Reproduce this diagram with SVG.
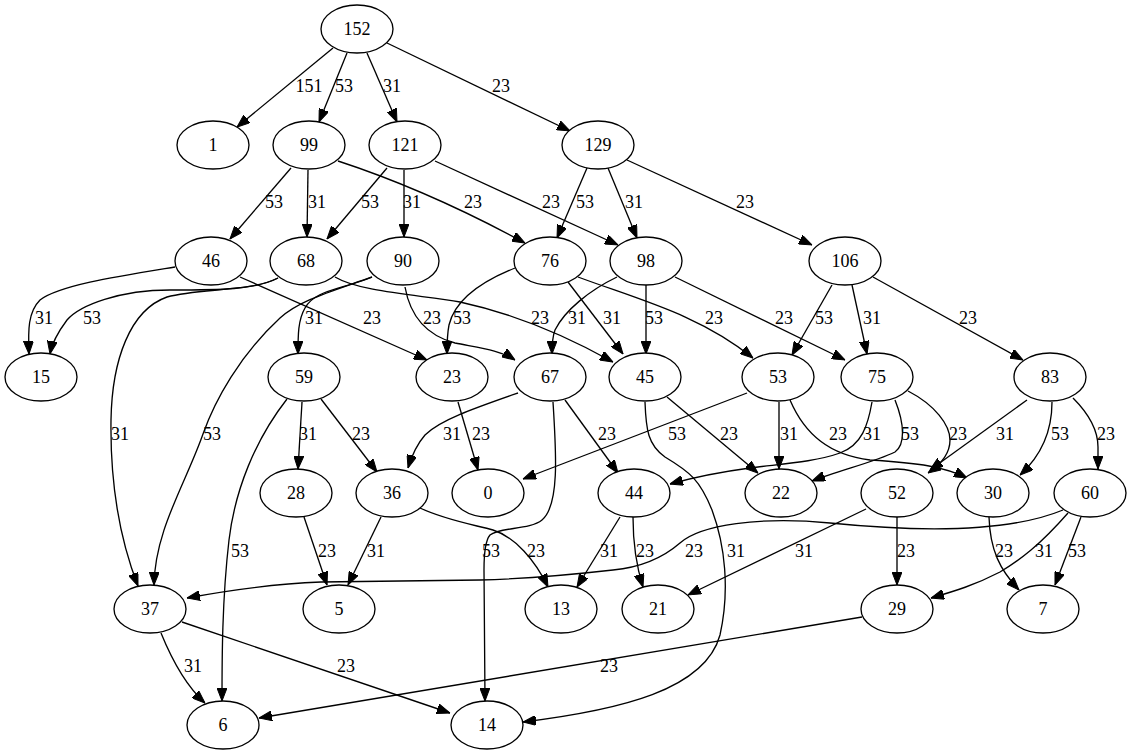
<svg xmlns="http://www.w3.org/2000/svg" width="1132" height="755" viewBox="0 0 1132 755">
<style>
.n ellipse{fill:#fff;stroke:#000;stroke-width:1.33}
text{font-family:"Liberation Serif","Times New Roman",serif;font-size:18px;fill:#000;text-anchor:middle}
.e path{fill:none;stroke:#000;stroke-width:1.33;marker-end:url(#ah)}
</style>
<defs>
<marker id="ah" viewBox="0 0 13 10" refX="13" refY="5" markerWidth="13" markerHeight="10" markerUnits="userSpaceOnUse" orient="auto">
<path d="M0,0 L13,5 L0,10 z" fill="#000" stroke="#000" stroke-width="1"/>
</marker>
</defs>
<rect width="1132" height="755" fill="#fff"/>
<g id="edges" class="e">
<g id="e152-1"><path d="M333,48 L237,127"/><text x="309" y="92">151</text></g>
<g id="e152-99"><path d="M347,53 L319,122"/><text x="344" y="92">53</text></g>
<g id="e152-121"><path d="M367,53 L397,122"/><text x="392" y="92">31</text></g>
<g id="e152-129"><path d="M387,43 L570,131"/><text x="501" y="92">23</text></g>
<g id="e99-46"><path d="M291,168 L230,239"/><text x="274" y="208">53</text></g>
<g id="e99-68"><path d="M308,170 L307,237"/><text x="317" y="208">31</text></g>
<g id="e99-76"><path d="M338,161 C390,178 455,205 525,243"/><text x="473" y="208">23</text></g>
<g id="e121-68"><path d="M387,168 L327,239"/><text x="370" y="208">53</text></g>
<g id="e121-90"><path d="M404,170 L404,237"/><text x="412" y="208">31</text></g>
<g id="e121-98"><path d="M435,161 L618,245"/><text x="551" y="208">23</text></g>
<g id="e129-76"><path d="M587,168 L557,238"/><text x="585" y="208">53</text></g>
<g id="e129-98"><path d="M608,168 L637,238"/><text x="634" y="208">31</text></g>
<g id="e129-106"><path d="M627,160 L812,245"/><text x="745" y="208">23</text></g>
<g id="e46-15"><path d="M175,267 C120,276 60,285 40,300 C28,312 28,330 29,354"/><text x="44" y="324">31</text></g>
<g id="e46-23"><path d="M240,277 L427,360"/><text x="372" y="324">23</text></g>
<g id="e68-15"><path d="M278,278 C255,290 220,290 170,290 C120,290 80,305 67,320 C58,332 52,343 50,354"/><text x="92" y="324">53</text></g>
<g id="e68-37"><path d="M278,278 C250,292 200,288 167,297 C130,310 112,360 111,420 C110,490 122,545 138,586"/><text x="120" y="440">31</text></g>
<g id="e68-45"><path d="M335,277 C360,292 420,295 460,302 C520,315 570,338 613,362"/><text x="540" y="324">23</text></g>
<g id="e90-59"><path d="M372,277 C340,290 315,290 305,308 C298,320 298,335 298,354"/><text x="314" y="324">31</text></g>
<g id="e90-37"><path d="M372,277 C330,292 300,300 280,318 C240,355 215,400 203,434 C185,485 155,530 154,585"/><text x="212" y="440">53</text></g>
<g id="e90-67"><path d="M405,287 C410,315 425,335 455,343 C480,348 500,350 515,360"/><text x="432" y="324">23</text></g>
<g id="e76-23"><path d="M515,268 C480,282 455,300 449,325 C447,335 447,345 447,354"/><text x="462" y="324">53</text></g>
<g id="e76-45"><path d="M568,282 L623,354"/><text x="612" y="324">31</text></g>
<g id="e76-53"><path d="M578,277 C640,300 700,315 753,358"/><text x="714" y="324">23</text></g>
<g id="e98-67"><path d="M617,277 C590,290 565,310 555,330 C552,338 552,345 552,354"/><text x="577" y="324">31</text></g>
<g id="e98-45"><path d="M646,285 L646,354"/><text x="654" y="324">53</text></g>
<g id="e98-75"><path d="M675,277 L845,360"/><text x="784" y="324">23</text></g>
<g id="e106-53"><path d="M832,285 L792,355"/><text x="824" y="324">53</text></g>
<g id="e106-75"><path d="M852,285 L867,354"/><text x="872" y="324">31</text></g>
<g id="e106-83"><path d="M873,277 L1023,360"/><text x="968" y="324">23</text></g>
<g id="e59-28"><path d="M302,402 L298,469"/><text x="308" y="440">31</text></g>
<g id="e59-36"><path d="M321,399 L377,472"/><text x="361" y="440">23</text></g>
<g id="e59-6"><path d="M287,399 C255,440 235,490 229,540 C222,600 222,660 222,701"/><text x="240" y="557">53</text></g>
<g id="e23-0"><path d="M458,402 L478,470"/><text x="481" y="440">23</text></g>
<g id="e67-36"><path d="M518,393 C475,408 440,420 425,435 C418,443 412,455 408,468"/><text x="452" y="440">31</text></g>
<g id="e67-44"><path d="M565,400 L618,473"/><text x="607" y="440">23</text></g>
<g id="e67-14"><path d="M553,402 C556,450 560,505 542,520 C530,530 500,527 490,535 C484,542 484,560 484,570 L485,701"/><text x="491" y="557">53</text></g>
<g id="e45-22"><path d="M667,397 L758,473"/><text x="729" y="440">23</text></g>
<g id="e45-14"><path d="M645,402 C646,430 648,445 665,457 C690,472 700,480 712,510 C725,545 730,590 720,635 C705,690 620,710 523,722"/><text x="736" y="557">31</text></g>
<g id="e53-0"><path d="M747,393 L523,479"/><text x="677" y="440">53</text></g>
<g id="e53-22"><path d="M779,402 L779,469"/><text x="789" y="440">31</text></g>
<g id="e53-30"><path d="M790,400 C805,435 830,455 870,460 C920,463 945,467 967,478"/><text x="838" y="440">23</text></g>
<g id="e75-44"><path d="M872,402 C868,425 862,445 840,453 C815,462 780,464 750,468 C720,472 695,477 670,484"/><text x="872" y="440">31</text></g>
<g id="e75-22"><path d="M895,400 C905,425 905,445 895,452 C875,462 840,470 812,481"/><text x="910" y="440">53</text></g>
<g id="e75-52"><path d="M908,391 C935,405 950,425 950,440 C950,455 940,465 928,473"/><text x="958" y="440">23</text></g>
<g id="e83-52"><path d="M1027,400 L930,470"/><text x="1005" y="440">31</text></g>
<g id="e83-30"><path d="M1052,402 C1052,430 1042,455 1020,475"/><text x="1060" y="440">53</text></g>
<g id="e83-60"><path d="M1073,398 C1090,415 1098,430 1098,447 L1098,469"/><text x="1106" y="440">23</text></g>
<g id="e28-5"><path d="M304,517 L327,585"/><text x="327" y="557">23</text></g>
<g id="e36-5"><path d="M381,517 L348,585"/><text x="376" y="557">31</text></g>
<g id="e36-13"><path d="M420,508 C445,520 475,525 493,530 C515,537 535,560 548,587"/><text x="536" y="557">23</text></g>
<g id="e44-13"><path d="M620,517 L577,587"/><text x="609" y="557">31</text></g>
<g id="e44-21"><path d="M633,517 C633,545 636,565 643,587"/><text x="645" y="557">23</text></g>
<g id="e52-21"><path d="M866,509 L688,595"/><text x="804" y="557">31</text></g>
<g id="e52-29"><path d="M897,517 L897,585"/><text x="906" y="557">23</text></g>
<g id="e30-7"><path d="M989,517 C990,550 1000,570 1019,590"/><text x="1004" y="557">23</text></g>
<g id="e60-37"><path d="M1063,510 C1010,532 920,532 830,523 C760,516 700,525 680,543 C665,556 645,567 613,570 C560,576 520,579 480,580 L321,582 C270,584 230,590 187,598"/><text x="694" y="557">23</text></g>
<g id="e60-29"><path d="M1068,513 C1040,545 1020,560 1000,572 C975,585 955,591 931,598"/><text x="1044" y="557">31</text></g>
<g id="e60-7"><path d="M1081,517 L1055,585"/><text x="1077" y="557">53</text></g>
<g id="e37-6"><path d="M161,633 C172,660 185,685 205,703"/><text x="193" y="672">31</text></g>
<g id="e37-14"><path d="M182,622 L450,713"/><text x="346" y="672">23</text></g>
<g id="e29-6"><path d="M862,617 L259,718"/><text x="609" y="672">23</text></g>
</g>
<g id="nodes" class="n">
<g id="n152"><ellipse cx="357" cy="29" rx="36" ry="24"/><text x="357" y="35">152</text></g>
<g id="n1"><ellipse cx="213" cy="145" rx="36" ry="24"/><text x="213" y="151">1</text></g>
<g id="n99"><ellipse cx="309" cy="145" rx="36" ry="24"/><text x="309" y="151">99</text></g>
<g id="n121"><ellipse cx="405" cy="145" rx="36" ry="24"/><text x="405" y="151">121</text></g>
<g id="n129"><ellipse cx="598" cy="145" rx="36" ry="24"/><text x="598" y="151">129</text></g>
<g id="n46"><ellipse cx="211" cy="261" rx="36" ry="24"/><text x="211" y="267">46</text></g>
<g id="n68"><ellipse cx="306" cy="261" rx="36" ry="24"/><text x="306" y="267">68</text></g>
<g id="n90"><ellipse cx="403" cy="261" rx="36" ry="24"/><text x="403" y="267">90</text></g>
<g id="n76"><ellipse cx="550" cy="261" rx="36" ry="24"/><text x="550" y="267">76</text></g>
<g id="n98"><ellipse cx="646" cy="261" rx="36" ry="24"/><text x="646" y="267">98</text></g>
<g id="n106"><ellipse cx="845" cy="261" rx="36" ry="24"/><text x="845" y="267">106</text></g>
<g id="n15"><ellipse cx="41" cy="377" rx="36" ry="24"/><text x="41" y="383">15</text></g>
<g id="n59"><ellipse cx="304" cy="377" rx="36" ry="24"/><text x="304" y="383">59</text></g>
<g id="n23"><ellipse cx="452" cy="377" rx="36" ry="24"/><text x="452" y="383">23</text></g>
<g id="n67"><ellipse cx="550" cy="377" rx="36" ry="24"/><text x="550" y="383">67</text></g>
<g id="n45"><ellipse cx="645" cy="377" rx="36" ry="24"/><text x="645" y="383">45</text></g>
<g id="n53"><ellipse cx="778" cy="377" rx="36" ry="24"/><text x="778" y="383">53</text></g>
<g id="n75"><ellipse cx="877" cy="377" rx="36" ry="24"/><text x="877" y="383">75</text></g>
<g id="n83"><ellipse cx="1050" cy="377" rx="36" ry="24"/><text x="1050" y="383">83</text></g>
<g id="n28"><ellipse cx="296" cy="493" rx="36" ry="24"/><text x="296" y="499">28</text></g>
<g id="n36"><ellipse cx="392" cy="493" rx="36" ry="24"/><text x="392" y="499">36</text></g>
<g id="n0"><ellipse cx="488" cy="493" rx="36" ry="24"/><text x="488" y="499">0</text></g>
<g id="n44"><ellipse cx="634" cy="493" rx="36" ry="24"/><text x="634" y="499">44</text></g>
<g id="n22"><ellipse cx="781" cy="493" rx="36" ry="24"/><text x="781" y="499">22</text></g>
<g id="n52"><ellipse cx="897" cy="493" rx="36" ry="24"/><text x="897" y="499">52</text></g>
<g id="n30"><ellipse cx="993" cy="493" rx="36" ry="24"/><text x="993" y="499">30</text></g>
<g id="n60"><ellipse cx="1090" cy="493" rx="36" ry="24"/><text x="1090" y="499">60</text></g>
<g id="n37"><ellipse cx="150" cy="609" rx="36" ry="24"/><text x="150" y="615">37</text></g>
<g id="n5"><ellipse cx="339" cy="609" rx="36" ry="24"/><text x="339" y="615">5</text></g>
<g id="n13"><ellipse cx="561" cy="609" rx="36" ry="24"/><text x="561" y="615">13</text></g>
<g id="n21"><ellipse cx="658" cy="609" rx="36" ry="24"/><text x="658" y="615">21</text></g>
<g id="n29"><ellipse cx="897" cy="609" rx="36" ry="24"/><text x="897" y="615">29</text></g>
<g id="n7"><ellipse cx="1043" cy="609" rx="36" ry="24"/><text x="1043" y="615">7</text></g>
<g id="n6"><ellipse cx="223" cy="725" rx="36" ry="24"/><text x="223" y="731">6</text></g>
<g id="n14"><ellipse cx="487" cy="725" rx="36" ry="24"/><text x="487" y="731">14</text></g>
</g>
</svg>
